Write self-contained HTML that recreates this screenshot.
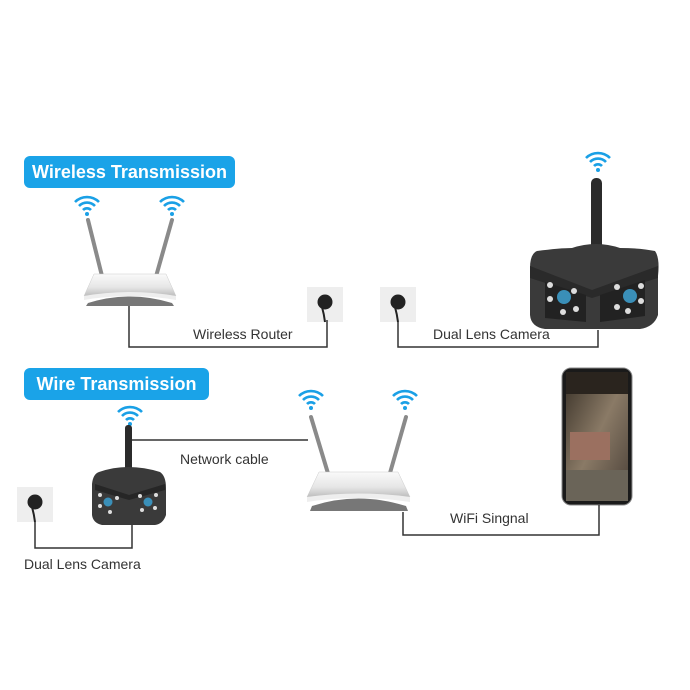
<!DOCTYPE html>
<html><head><meta charset="utf-8"><style>
html,body{margin:0;padding:0;background:#fff;}
svg{display:block;}
text{font-family:"Liberation Sans",sans-serif;}
</style></head><body>
<svg width="690" height="690" viewBox="0 0 690 690" xmlns="http://www.w3.org/2000/svg">
<defs>
<g id="wifi">
<path d="M-12,-4 A17,17 0 0 1 12,-4" fill="none" stroke="#1aa0e6" stroke-width="2.6"/>
<path d="M-8,0 A11,11 0 0 1 8,0" fill="none" stroke="#1aa0e6" stroke-width="2.6"/>
<path d="M-4,4 A5.5,5.5 0 0 1 4,4" fill="none" stroke="#1aa0e6" stroke-width="2.6"/>
<circle cx="0" cy="8" r="2" fill="#1aa0e6"/>
</g>
<linearGradient id="rg" x1="0" y1="0" x2="0" y2="1">
<stop offset="0" stop-color="#fafafa"/><stop offset="0.6" stop-color="#e6e6e6"/><stop offset="1" stop-color="#bdbdbd"/>
</linearGradient>
<g id="socket">
<rect x="0" y="0" width="36" height="35" fill="#eeeeee"/>
<circle cx="18" cy="15" r="7.5" fill="#222"/>
<path d="M15,20 Q17,27 18,35" stroke="#222" stroke-width="2" fill="none"/>
</g>
<linearGradient id="ph" x1="0" y1="0" x2="1" y2="1">
<stop offset="0" stop-color="#3a3228"/><stop offset="0.5" stop-color="#8a7a66"/><stop offset="1" stop-color="#4a4038"/>
</linearGradient>
</defs>

<rect x="24" y="156" width="211" height="32" rx="6" fill="#1aa3e8"/>
<text x="129.5" y="178" fill="#fff" font-size="18" font-weight="bold" text-anchor="middle">Wireless Transmission</text>
<rect x="24" y="368" width="185" height="32" rx="6" fill="#1aa3e8"/>
<text x="116.5" y="390" fill="#fff" font-size="18" font-weight="bold" text-anchor="middle">Wire Transmission</text>

<!-- router 1 -->
<line x1="103" y1="280" x2="88" y2="220" stroke="#8a8a8a" stroke-width="4" stroke-linecap="round"/>
<line x1="155" y1="280" x2="172" y2="220" stroke="#8a8a8a" stroke-width="4" stroke-linecap="round"/>
<use href="#wifi" x="87" y="206"/>
<use href="#wifi" x="172" y="206"/>
<path d="M94,274 L166,274 L176,296 Q130,292 84,296 Z" fill="url(#rg)" stroke="#ccc" stroke-width="0.5"/>
<path d="M84,296 Q130,288 176,296 L176,300 Q130,292 84,300 Z" fill="#eee"/>
<path d="M88,303 Q130,290 172,303 L174,306 L86,306 Z" fill="#777"/>

<use href="#socket" x="307" y="287"/>
<use href="#socket" x="380" y="287"/>
<path d="M129,306 V347 H327 V320" fill="none" stroke="#333" stroke-width="1.5"/>
<path d="M398,322 V347 H598 V330" fill="none" stroke="#333" stroke-width="1.5"/>
<text x="193" y="339" font-size="14" fill="#333">Wireless Router</text>
<text x="433" y="339" font-size="14" fill="#333">Dual Lens Camera</text>

<!-- big camera -->
<use href="#wifi" x="598" y="162"/>
<rect x="591" y="178" width="11" height="100" rx="5" fill="#2b2b2b"/>
<path d="M537,251 Q560,248 572,248 Q596,240 620,248 Q640,248 655,251 Q660,258 658,276 L658,315 Q654,327 640,329 L545,329 Q531,327 530,315 L530,268 Q530,254 537,251 Z" fill="#3a3a3a"/>
<path d="M530,266 L592,290 L658,266 L658,278 L592,298 L530,278 Z" fill="#2a2a2a"/>
<path d="M545,282 L586,295 L586,322 L545,318 Z" fill="#222"/>
<path d="M600,295 L645,280 L645,316 L600,322 Z" fill="#222"/>
<circle cx="564" cy="297" r="7" fill="#3a8fb8"/>
<circle cx="630" cy="296" r="7" fill="#3a8fb8"/>
<g fill="#ddd"><circle cx="550" cy="285" r="3"/><circle cx="550" cy="299" r="3"/><circle cx="574" cy="291" r="3"/><circle cx="563" cy="312" r="3"/><circle cx="576" cy="309" r="3"/>
<circle cx="617" cy="287" r="3"/><circle cx="641" cy="286" r="3"/><circle cx="617" cy="307" r="3"/><circle cx="641" cy="301" r="3"/><circle cx="628" cy="311" r="3"/></g>

<!-- phone -->
<rect x="562" y="368" width="70" height="137" rx="9" fill="#1a1a1a" stroke="#888" stroke-width="1"/>
<rect x="566" y="372" width="62" height="129" rx="6" fill="url(#ph)"/>
<rect x="570" y="432" width="40" height="28" fill="#9b7060"/>
<rect x="566" y="470" width="62" height="31" fill="#6a6458"/>
<rect x="566" y="372" width="62" height="22" fill="#2a241e"/>

<!-- small camera -->
<use href="#wifi" x="130" y="416"/>
<rect x="125" y="425" width="7" height="63" rx="3" fill="#2b2b2b"/>
<path d="M99,472 Q128,462 160,472 Q166,476 166,488 L166,515 Q163,524 155,525 L102,525 Q93,523 92,515 L92,484 Q93,474 99,472 Z" fill="#3a3a3a"/>
<path d="M95,484 L129,495 L165,484 L165,490 L129,500 L95,490 Z" fill="#262626"/>
<circle cx="108" cy="502" r="4.5" fill="#3a8fb8"/>
<circle cx="148" cy="502" r="4.5" fill="#3a8fb8"/>
<g fill="#ddd"><circle cx="100" cy="495" r="2"/><circle cx="100" cy="506" r="2"/><circle cx="117" cy="498" r="2"/><circle cx="110" cy="512" r="2"/><circle cx="140" cy="496" r="2"/><circle cx="156" cy="495" r="2"/><circle cx="142" cy="510" r="2"/><circle cx="155" cy="508" r="2"/></g>

<line x1="132" y1="440" x2="308" y2="440" stroke="#333" stroke-width="1.5"/>
<text x="180" y="464" font-size="14" fill="#333">Network cable</text>

<!-- router 2 -->
<line x1="330" y1="480" x2="311" y2="417" stroke="#8a8a8a" stroke-width="4" stroke-linecap="round"/>
<line x1="388" y1="480" x2="406" y2="417" stroke="#8a8a8a" stroke-width="4" stroke-linecap="round"/>
<use href="#wifi" x="311" y="400"/>
<use href="#wifi" x="405" y="400"/>
<path d="M319,472 L398,472 L410,497 Q358,492 307,497 Z" fill="url(#rg)" stroke="#ccc" stroke-width="0.5"/>
<path d="M307,497 Q358,490 410,497 L410,502 Q358,494 307,502 Z" fill="#eee"/>
<path d="M312,506 Q358,491 406,506 L408,511 L310,511 Z" fill="#777"/>

<use href="#socket" x="17" y="487"/>
<path d="M35,522 V548 H132 V525" fill="none" stroke="#333" stroke-width="1.5"/>
<text x="24" y="569" font-size="14" fill="#333">Dual Lens Camera</text>

<path d="M403,512 V535 H599 V505" fill="none" stroke="#333" stroke-width="1.5"/>
<text x="450" y="523" font-size="14" fill="#333">WiFi Singnal</text>
</svg>
</body></html>
